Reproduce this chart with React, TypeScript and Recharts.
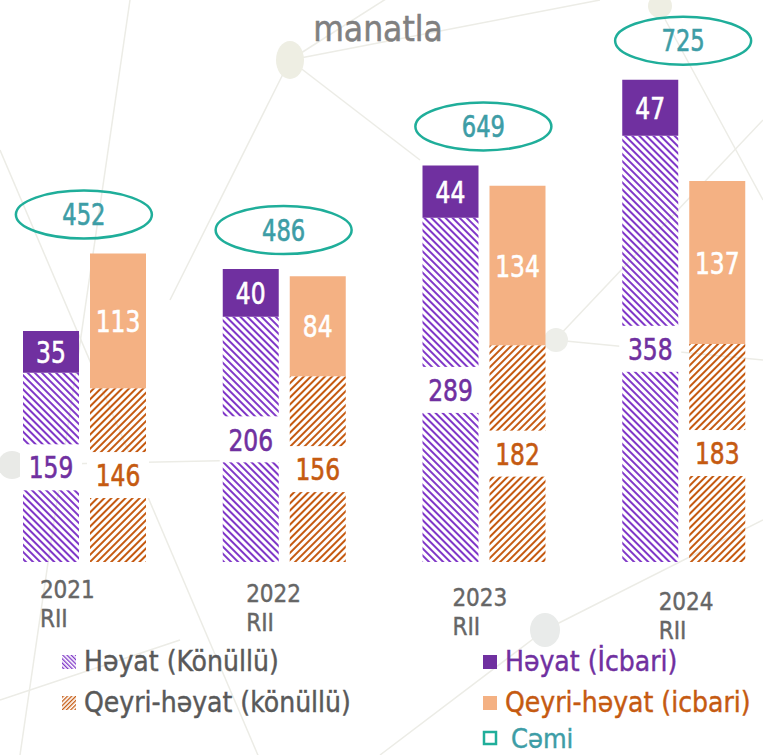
import React from 'react';
import { ComposedChart, Bar, Line, XAxis, YAxis, LabelList } from 'recharts';

const years = ['2021', '2022', '2023', '2024'];
const yearSuffix = 'RII';
const lifeVoluntary = [159, 206, 289, 358];
const lifeCompulsory = [35, 40, 44, 47];
const nonLifeVoluntary = [146, 156, 182, 183];
const nonLifeCompulsory = [113, 84, 134, 137];
const totals = [452, 486, 649, 725];

const FONT = "'Liberation Sans Narrow', 'DejaVu Sans Condensed', 'Roboto Condensed', Roboto, sans-serif";
const PURPLE = '#7030A0';
const PURPLE_HATCH = '#8038C8';
const ORANGE = '#F4B183';
const ORANGE_DARK = '#C55A11';
const TEAL = '#1FAE9A';
const TEAL_TEXT = '#3D9DA6';
const GREY = '#666666';

const data = years.map((year, i) => ({
    year,
    lifeV: lifeVoluntary[i],
    lifeC: lifeCompulsory[i],
    nonV: nonLifeVoluntary[i],
    nonC: nonLifeCompulsory[i],
    total: totals[i],
    peak: Math.max(lifeVoluntary[i] + lifeCompulsory[i], nonLifeVoluntary[i] + nonLifeCompulsory[i]),
}));

// narrow number text, squeezed horizontally to mimic the DIN-like digits
const Num = ({ cx, cy, color, size, value }: any) => (
    <g transform={`translate(${cx},${cy}) scale(0.84,1)`}>
        <text x={0} y={size * 0.36} textAnchor="middle" fill={color} stroke={color} strokeWidth={0.6}
            fontSize={size} fontFamily={FONT}>{value}</text>
    </g>
);

const InsideLabel = (props: any) => {
    const { x, y, width, height, value } = props;
    return <Num cx={x + width / 2} cy={y + height / 2} color="#fff" size={31} value={value} />;
};

const boxedLabel = (color: string) => (props: any) => {
    const { x, y, width, height, value } = props;
    const cy = y + height / 2;
    return (
        <g>
            <rect x={x - 3} y={cy - 23} width={width + 6} height={46} fill="#fff" />
            <Num cx={x + width / 2} cy={cy} color={color} size={31} value={value} />
        </g>
    );
};

const TotalBadge = (props: any) => {
    const { x, y, value } = props;
    const cy = y - 39;
    return (
        <g>
            <ellipse cx={x - 1} cy={cy} rx={68} ry={24} fill="none" stroke={TEAL} strokeWidth={2.5} />
            <Num cx={x - 1} cy={cy} color={TEAL_TEXT} size={30} value={value} />
        </g>
    );
};

const YearTick = (props: any) => {
    const { x, y, payload, index } = props;
    const left = x - 45 + index * 6.5;
    const top = y + 28 + index * 4;
    return (
        <g fill={GREY} stroke={GREY} strokeWidth={0.4} fontSize={24} fontFamily={FONT}>
            <text x={left} y={top}>{payload.value}</text>
            <text x={left} y={top + 29}>{yearSuffix}</text>
        </g>
    );
};

const legendItems = [
    { label: 'Həyat (Könüllü)', icon: 'url(#lgHatchLife)', color: '#595959', left: 60, top: 649 },
    { label: 'Qeyri-həyat (könüllü)', icon: 'url(#lgHatchNon)', color: '#595959', left: 60, top: 690 },
    { label: 'Həyat (İcbari)', icon: PURPLE, color: PURPLE, left: 481, top: 649 },
    { label: 'Qeyri-həyat (icbari)', icon: ORANGE, color: ORANGE_DARK, left: 481, top: 690 },
    { label: 'Cəmi', icon: 'none', color: TEAL_TEXT, left: 481, top: 720 },
];

const Legend = () => (
    <svg width={763} height={755} style={{ position: 'absolute', left: 0, top: 0 }}>
        <defs>
            <pattern id="lgHatchLife" width={3} height={3} patternUnits="userSpaceOnUse" patternTransform="rotate(-45)">
                <rect width={1.3} height={3} fill={PURPLE_HATCH} />
            </pattern>
            <pattern id="lgHatchNon" width={3} height={3} patternUnits="userSpaceOnUse" patternTransform="rotate(45)">
                <rect width={1.3} height={3} fill={ORANGE_DARK} />
            </pattern>
        </defs>
        {legendItems.map((it) => {
            const outline = it.icon === 'none';
            return (
                <g key={it.label} transform={`translate(${it.left},${it.top})`}>
                    <rect x={outline ? 3 : 2} y={outline ? 12 : 6} width={outline ? 12 : 14} height={outline ? 12 : 14}
                        fill={it.icon} stroke={outline ? TEAL : 'none'} strokeWidth={2.5} />
                    <text x={outline ? 30 : 24} y={outline ? 28 : 22} fill={it.color} stroke={it.color} strokeWidth={0.4}
                        fontSize={outline ? 27 : 28} fontFamily={FONT}>{it.label}</text>
                </g>
            );
        })}
    </svg>
);

const Background = () => (
    <svg width={763} height={755} style={{ position: 'absolute', left: 0, top: 0 }}>
        <g stroke="#ECECE6" strokeWidth={1.5} fill="none">
            <line x1={290} y1={60} x2={400} y2={-10} />
            <line x1={290} y1={60} x2={170} y2={300} />
            <line x1={290} y1={60} x2={600} y2={0} />
            <line x1={290} y1={60} x2={420} y2={160} />
            <line x1={0} y1={150} x2={260} y2={760} />
            <line x1={130} y1={0} x2={20} y2={755} />
            <line x1={555} y1={340} x2={763} y2={120} />
            <line x1={555} y1={340} x2={763} y2={360} />
            <line x1={545} y1={630} x2={763} y2={520} />
            <line x1={545} y1={630} x2={380} y2={755} />
            <line x1={12} y1={465} x2={260} y2={460} />
            <line x1={660} y1={10} x2={763} y2={200} />
            <line x1={180} y1={640} x2={0} y2={700} />
        </g>
        <ellipse cx={290} cy={60} rx={14} ry={19} fill="#EEEEE3" />
        <circle cx={660} cy={6} r={12} fill="#EEEEE3" />
        <circle cx={12} cy={465} r={14} fill="#E9EAE7" />
        <circle cx={556} cy={340} r={12} fill="#EDEEE9" />
        <ellipse cx={545} cy={630} rx={15} ry={17} fill="#E9EBEA" />
        <text x={378} y={41} textAnchor="middle" fill="#808080" stroke="#808080" strokeWidth={0.5}
            fontSize={35} fontFamily={FONT}>manatla</text>
    </svg>
);

export default function App() {
    return (
        <div style={{ position: 'absolute', left: 0, top: 0, width: 763, height: 755, background: '#fff', overflow: 'hidden' }}>
            <Background />
            <div style={{ position: 'absolute', left: 0, top: 0 }}>
                <ComposedChart width={763} height={755} data={data} barSize={56} barGap={11}
                    margin={{ top: 38, right: -21, bottom: 163, left: -15 }}>
                    <defs>
                        <pattern id="hatchLife" width={5} height={5} patternUnits="userSpaceOnUse" patternTransform="rotate(-45)">
                            <rect width={2} height={5} fill={PURPLE_HATCH} />
                        </pattern>
                        <pattern id="hatchNon" width={5} height={5} patternUnits="userSpaceOnUse" patternTransform="rotate(45)">
                            <rect width={2} height={5} fill={ORANGE_DARK} />
                        </pattern>
                    </defs>
                    <XAxis dataKey="year" height={30} axisLine={false} tickLine={false} tick={<YearTick />} interval={0} />
                    <YAxis hide domain={[0, 440]} />
                    <Bar dataKey="lifeV" stackId="life" fill="url(#hatchLife)" isAnimationActive={false}>
                        <LabelList dataKey="lifeV" content={boxedLabel(PURPLE)} />
                    </Bar>
                    <Bar dataKey="lifeC" stackId="life" fill={PURPLE} isAnimationActive={false}>
                        <LabelList dataKey="lifeC" content={<InsideLabel />} />
                    </Bar>
                    <Bar dataKey="nonV" stackId="non" fill="url(#hatchNon)" isAnimationActive={false}>
                        <LabelList dataKey="nonV" content={boxedLabel(ORANGE_DARK)} />
                    </Bar>
                    <Bar dataKey="nonC" stackId="non" fill={ORANGE} isAnimationActive={false}>
                        <LabelList dataKey="nonC" content={<InsideLabel />} />
                    </Bar>
                    <Line dataKey="peak" stroke="none" dot={false} activeDot={false} legendType="none" isAnimationActive={false}>
                        <LabelList dataKey="total" content={<TotalBadge />} />
                    </Line>
                </ComposedChart>
            </div>
            <Legend />
        </div>
    );
}
